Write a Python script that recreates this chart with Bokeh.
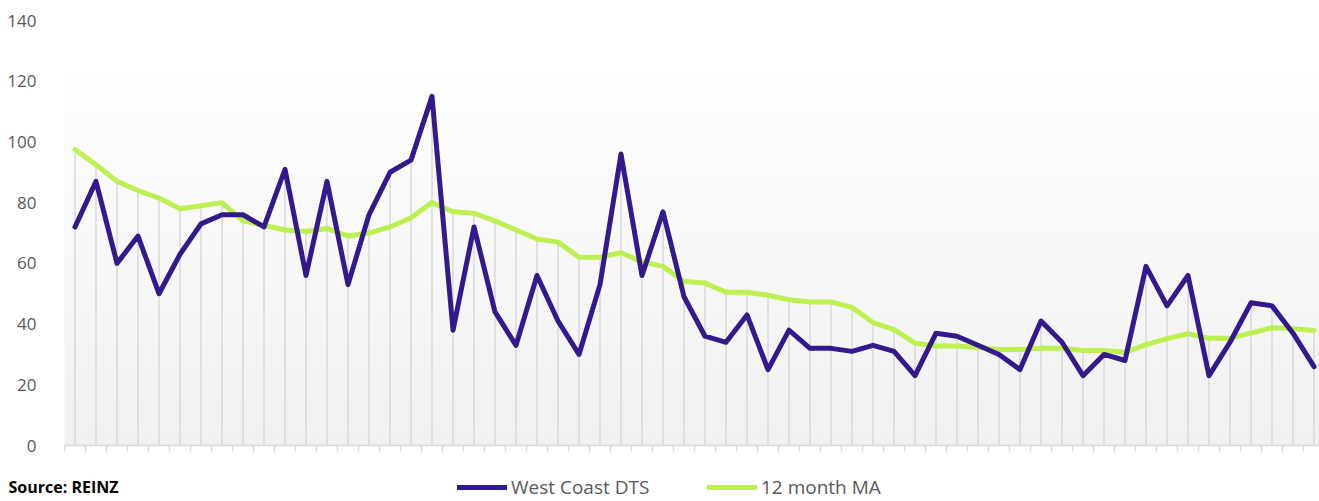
import numpy as np
from bokeh.plotting import figure
from bokeh.models import FixedTicker, Legend, LegendItem, Label, Range1d
from bokeh.embed import file_html
from bokeh.resources import INLINE

# ---- data ----
periods = list(range(60))
west_coast_dts = [72, 87, 60, 69, 50, 63, 73, 76, 76, 72,
                  91, 56, 87, 53, 76, 90, 94, 115, 38, 72,
                  44, 33, 56, 41, 30, 53, 96, 56, 77, 49,
                  36, 34, 43, 25, 38, 32, 32, 31, 33, 31,
                  23, 37, 36, 33, 30, 25, 41, 34, 23, 30,
                  28, 59, 46, 56, 23, 34, 47, 46, 37, 26]
ma_12 = [97.5, 92.5, 87, 84, 81.5, 78, 79, 80, 74, 72.5,
         71, 70.5, 71.5, 69, 70, 72, 75, 80, 77, 76.5,
         74, 71, 68, 67, 62, 62, 63.5, 60.5, 59, 54,
         53.5, 50.5, 50.5, 49.5, 48, 47.3, 47.3, 45.5, 40.5, 38.2,
         33.7, 32.8, 32.8, 32.3, 31.6, 31.6, 32, 32, 31.3, 31.3,
         30.7, 33.2, 35.2, 36.8, 35.3, 35.3, 37, 38.8, 38.5, 37.9]
y_ticks = [0, 20, 40, 60, 80, 100, 120, 140]
series_names = ["West Coast DTS", "12 month MA"]
source_text = "Source: REINZ"

BLUE = "#33198c"
GREEN = "#bdf051"
GRID = "#d9d9d9"
TXT = "#595959"
FONT = "Open Sans"

W, H = 1319, 501
PX_Y = 425.0 / 140.0          # pixels per unit on y
PX_X = 21.0                   # pixels per period
Y0 = 445                      # canvas row of y = 0
X0 = 64                       # canvas column of x = -0.5

y_start = -(H - Y0) / PX_Y
y_end = 140 + 20 / PX_Y
x_start = -0.5 - X0 / PX_X
x_end = -0.5 + (W - X0) / PX_X

p = figure(width=W, height=H, output_backend="svg", toolbar_location=None,
           x_range=Range1d(x_start, x_end), y_range=Range1d(y_start, y_end),
           min_border=0, min_border_left=0, min_border_right=0,
           min_border_top=0, min_border_bottom=0)
p.outline_line_color = None
p.background_fill_color = "white"
p.border_fill_color = "white"
p.xgrid.visible = False
p.ygrid.visible = False

# gradient background of the plot area
n = 256
t = np.linspace(0, 1, n)
lo, hi = 0xf1, 0xfe
vals = np.round(lo + (hi - lo) * t).astype(np.uint8)
img = np.zeros((n, 1), dtype=np.uint32)
view = img.view(dtype=np.uint8).reshape((n, 1, 4))
view[:, 0, 0] = vals
view[:, 0, 1] = vals
view[:, 0, 2] = vals
view[:, 0, 3] = 255
p.image_rgba(image=[img], x=-0.5, y=0, dw=70, dh=124)

# drop lines from the higher series down to the axis
tops = np.maximum(np.array(west_coast_dts, float), np.array(ma_12, float))
p.segment(x0=periods, y0=[0] * len(periods), x1=periods, y1=list(tops),
          line_color=GRID, line_width=1.5)

r_ma = p.line(periods, ma_12, line_color=GREEN, line_width=5,
              line_join="round", line_cap="round")
r_dts = p.line(periods, west_coast_dts, line_color=BLUE, line_width=5,
               line_join="round", line_cap="round")

# axes drawn at fixed locations inside the canvas
p.yaxis.fixed_location = -0.5
p.yaxis.ticker = FixedTicker(ticks=y_ticks)
p.yaxis.axis_line_color = None
p.yaxis.major_tick_line_color = None
p.yaxis.minor_tick_line_color = None
p.yaxis.major_label_standoff = 22
p.yaxis.major_label_text_font = FONT
p.yaxis.major_label_text_font_size = "17px"
p.yaxis.major_label_text_color = TXT

p.xaxis.fixed_location = 0
p.xaxis.bounds = (-0.5, 70)
p.xaxis.ticker = FixedTicker(ticks=[i - 0.5 for i in range(61)])
p.xaxis.axis_line_color = GRID
p.xaxis.axis_line_width = 1.5
p.xaxis.major_tick_line_color = GRID
p.xaxis.major_tick_line_width = 1.5
p.xaxis.major_tick_in = 0
p.xaxis.major_tick_out = 6
p.xaxis.minor_tick_line_color = None
p.xaxis.major_label_text_font_size = "0px"
p.xaxis.major_label_text_color = None

# legends (two single-item legends, positioned under the chart)
def mk_legend(name, rend, loc):
    lg = Legend(items=[LegendItem(label=name, renderers=[rend])], location=loc,
                orientation="horizontal", padding=0, margin=0, spacing=0,
                glyph_width=50, glyph_height=20, label_standoff=4,
                label_text_font=FONT, label_text_font_size="19px",
                label_text_color=TXT, border_line_color=None,
                background_fill_alpha=0)
    p.add_layout(lg, "center")

mk_legend(series_names[0], r_dts, (457, 1))
mk_legend(series_names[1], r_ma, (707, 1))

p.add_layout(Label(x=8, y=H - 475, x_units="screen", y_units="screen",
                   text=source_text, text_baseline="top", text_align="left",
                   text_font=FONT, text_font_style="bold",
                   text_font_size="16px", text_color="black"))

open("out.html", "w").write(file_html(p, INLINE))
